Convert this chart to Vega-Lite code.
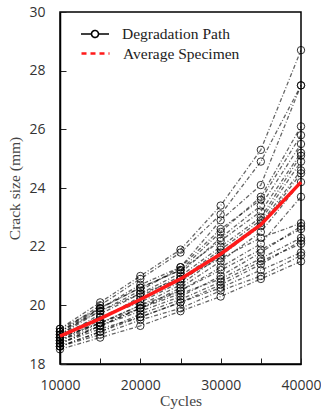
{
  "$schema": "https://vega.github.io/schema/vega-lite/v6.json",
  "width": 241,
  "height": 352,
  "autosize": {"type": "none"},
  "padding": {"left": 60, "top": 12, "right": 20, "bottom": 50},
  "background": "white",
  "config": {
    "view": {"stroke": "black", "strokeWidth": 1.5},
    "axis": {
      "domainColor": "black", "domainWidth": 1.5, "tickColor": "#222", "tickWidth": 1,
      "tickSize": -6, "grid": false, "labelFlush": false,
      "labelFont": "Open Sans", "labelFontSize": 14, "labelColor": "#333",
      "titleFont": "Liberation Serif", "titleFontSize": 15.5, "titleFontWeight": "normal", "titleColor": "#444"
    },
    "legend": {
      "labelFont": "Liberation Serif", "labelFontSize": 15.5, "labelColor": "#222", "labelOffset": 19,
      "symbolSize": 196, "symbolStrokeWidth": 1.8, "title": null, "orient": "none"
    }
  },
  "datasets": {
    "paths": [
      {"p":1,"c":10000,"s":19.2},{"p":1,"c":15000,"s":20.1},{"p":1,"c":20000,"s":21.0},{"p":1,"c":25000,"s":21.9},{"p":1,"c":30000,"s":23.4},{"p":1,"c":35000,"s":25.3},{"p":1,"c":40000,"s":28.7},
      {"p":2,"c":10000,"s":19.1},{"p":2,"c":15000,"s":20.0},{"p":2,"c":20000,"s":20.9},{"p":2,"c":25000,"s":21.8},{"p":2,"c":30000,"s":23.1},{"p":2,"c":35000,"s":24.9},{"p":2,"c":40000,"s":27.5},
      {"p":3,"c":10000,"s":19.0},{"p":3,"c":15000,"s":19.9},{"p":3,"c":20000,"s":20.7},{"p":3,"c":25000,"s":21.3},{"p":3,"c":30000,"s":22.9},{"p":3,"c":35000,"s":24.1},{"p":3,"c":40000,"s":27.5},
      {"p":4,"c":10000,"s":19.1},{"p":4,"c":15000,"s":19.9},{"p":4,"c":20000,"s":20.6},{"p":4,"c":25000,"s":21.2},{"p":4,"c":30000,"s":22.5},{"p":4,"c":35000,"s":23.7},{"p":4,"c":40000,"s":26.1},
      {"p":5,"c":10000,"s":19.0},{"p":5,"c":15000,"s":19.8},{"p":5,"c":20000,"s":20.5},{"p":5,"c":25000,"s":21.3},{"p":5,"c":30000,"s":22.6},{"p":5,"c":35000,"s":23.6},{"p":5,"c":40000,"s":25.8},
      {"p":6,"c":10000,"s":18.9},{"p":6,"c":15000,"s":19.7},{"p":6,"c":20000,"s":20.4},{"p":6,"c":25000,"s":21.1},{"p":6,"c":30000,"s":22.3},{"p":6,"c":35000,"s":23.4},{"p":6,"c":40000,"s":25.5},
      {"p":7,"c":10000,"s":19.2},{"p":7,"c":15000,"s":19.9},{"p":7,"c":20000,"s":20.6},{"p":7,"c":25000,"s":21.2},{"p":7,"c":30000,"s":22.2},{"p":7,"c":35000,"s":23.2},{"p":7,"c":40000,"s":25.2},
      {"p":8,"c":10000,"s":18.8},{"p":8,"c":15000,"s":19.5},{"p":8,"c":20000,"s":20.3},{"p":8,"c":25000,"s":21.0},{"p":8,"c":30000,"s":22.0},{"p":8,"c":35000,"s":23.0},{"p":8,"c":40000,"s":25.1},
      {"p":9,"c":10000,"s":18.9},{"p":9,"c":15000,"s":19.6},{"p":9,"c":20000,"s":20.2},{"p":9,"c":25000,"s":20.9},{"p":9,"c":30000,"s":21.9},{"p":9,"c":35000,"s":22.9},{"p":9,"c":40000,"s":24.9},
      {"p":10,"c":10000,"s":19.0},{"p":10,"c":15000,"s":19.6},{"p":10,"c":20000,"s":20.1},{"p":10,"c":25000,"s":20.8},{"p":10,"c":30000,"s":21.8},{"p":10,"c":35000,"s":22.8},{"p":10,"c":40000,"s":24.6},
      {"p":11,"c":10000,"s":18.8},{"p":11,"c":15000,"s":19.4},{"p":11,"c":20000,"s":20.0},{"p":11,"c":25000,"s":20.7},{"p":11,"c":30000,"s":21.7},{"p":11,"c":35000,"s":22.7},{"p":11,"c":40000,"s":24.5},
      {"p":12,"c":10000,"s":18.7},{"p":12,"c":15000,"s":19.3},{"p":12,"c":20000,"s":19.9},{"p":12,"c":25000,"s":20.6},{"p":12,"c":30000,"s":21.5},{"p":12,"c":35000,"s":22.5},{"p":12,"c":40000,"s":24.2},
      {"p":13,"c":10000,"s":18.9},{"p":13,"c":15000,"s":19.4},{"p":13,"c":20000,"s":20.0},{"p":13,"c":25000,"s":20.5},{"p":13,"c":30000,"s":21.3},{"p":13,"c":35000,"s":22.1},{"p":13,"c":40000,"s":23.7},
      {"p":14,"c":10000,"s":19.1},{"p":14,"c":15000,"s":19.8},{"p":14,"c":20000,"s":20.4},{"p":14,"c":25000,"s":20.9},{"p":14,"c":30000,"s":21.6},{"p":14,"c":35000,"s":22.3},{"p":14,"c":40000,"s":22.8},
      {"p":15,"c":10000,"s":18.8},{"p":15,"c":15000,"s":19.3},{"p":15,"c":20000,"s":19.8},{"p":15,"c":25000,"s":20.3},{"p":15,"c":30000,"s":21.0},{"p":15,"c":35000,"s":21.8},{"p":15,"c":40000,"s":22.7},
      {"p":16,"c":10000,"s":18.7},{"p":16,"c":15000,"s":19.3},{"p":16,"c":20000,"s":19.9},{"p":16,"c":25000,"s":20.5},{"p":16,"c":30000,"s":21.2},{"p":16,"c":35000,"s":21.9},{"p":16,"c":40000,"s":22.6},
      {"p":17,"c":10000,"s":18.9},{"p":17,"c":15000,"s":19.4},{"p":17,"c":20000,"s":19.9},{"p":17,"c":25000,"s":20.4},{"p":17,"c":30000,"s":20.9},{"p":17,"c":35000,"s":21.6},{"p":17,"c":40000,"s":22.3},
      {"p":18,"c":10000,"s":18.6},{"p":18,"c":15000,"s":19.1},{"p":18,"c":20000,"s":19.6},{"p":18,"c":25000,"s":20.1},{"p":18,"c":30000,"s":20.7},{"p":18,"c":35000,"s":21.4},{"p":18,"c":40000,"s":22.2},
      {"p":19,"c":10000,"s":18.7},{"p":19,"c":15000,"s":19.2},{"p":19,"c":20000,"s":19.6},{"p":19,"c":25000,"s":20.1},{"p":19,"c":30000,"s":20.6},{"p":19,"c":35000,"s":21.2},{"p":19,"c":40000,"s":21.8},
      {"p":20,"c":10000,"s":18.6},{"p":20,"c":15000,"s":19.0},{"p":20,"c":20000,"s":19.5},{"p":20,"c":25000,"s":19.9},{"p":20,"c":30000,"s":20.5},{"p":20,"c":35000,"s":21.0},{"p":20,"c":40000,"s":21.7},
      {"p":21,"c":10000,"s":18.5},{"p":21,"c":15000,"s":18.9},{"p":21,"c":20000,"s":19.3},{"p":21,"c":25000,"s":19.8},{"p":21,"c":30000,"s":20.3},{"p":21,"c":35000,"s":20.9},{"p":21,"c":40000,"s":21.5},
      {"p":22,"c":10000,"s":18.6},{"p":22,"c":15000,"s":19.1},{"p":22,"c":20000,"s":19.7},{"p":22,"c":25000,"s":20.2},{"p":22,"c":30000,"s":20.8},{"p":22,"c":35000,"s":21.5},{"p":22,"c":40000,"s":22.1}
    ],
    "avg": [
      {"c":10000,"s":18.95},{"c":15000,"s":19.55},{"c":20000,"s":20.2},{"c":25000,"s":20.9},{"c":30000,"s":21.75},{"c":35000,"s":22.75},{"c":40000,"s":24.2}
    ]
  },
  "layer": [
    {
      "data": {"name": "paths"},
      "mark": {"type": "line", "strokeWidth": 1.3, "strokeDash": [4, 2, 1, 2], "opacity": 0.6},
      "encoding": {
        "x": {"field": "c", "type": "quantitative", "scale": {"domain": [10000, 40000], "nice": false, "zero": false},
          "axis": {"title": "Cycles", "values": [10000, 15000, 20000, 25000, 30000, 35000, 40000], "format": "d",
            "labelExpr": "datum.value % 10000 === 0 ? datum.label : ''", "labelPadding": 20, "titlePadding": 1}},
        "y": {"field": "s", "type": "quantitative", "scale": {"domain": [18, 30], "nice": false, "zero": false},
          "axis": {"title": "Crack size (mm)", "values": [18, 20, 22, 24, 26, 28, 30], "labelPadding": 21, "titlePadding": 6}},
        "detail": {"field": "p"},
        "stroke": {"datum": "Degradation Path", "type": "nominal",
          "scale": {"domain": ["Degradation Path"], "range": ["black"]},
          "legend": {
            "legendX": 27, "legendY": 14,
            "symbolType": "M-2,0H-0.5M0.5,0H2M-0.5,0A0.5,0.5 0 1,1 0.5,0A0.5,0.5 0 1,1 -0.5,0",
            "symbolDash": [1, 0], "symbolStrokeWidth": 1.6, "symbolFillColor": "transparent", "symbolOpacity": 1
          }}
      }
    },
    {
      "data": {"name": "paths"},
      "mark": {"type": "point", "filled": false, "size": 55, "strokeWidth": 1, "color": "black", "opacity": 0.8},
      "encoding": {
        "x": {"field": "c", "type": "quantitative"},
        "y": {"field": "s", "type": "quantitative"}
      }
    },
    {
      "data": {"name": "avg"},
      "mark": {"type": "line", "strokeWidth": 3.5},
      "encoding": {
        "x": {"field": "c", "type": "quantitative"},
        "y": {"field": "s", "type": "quantitative"},
        "color": {"datum": "Average Specimen", "type": "nominal",
          "scale": {"domain": ["Average Specimen"], "range": ["#ff1a1a"]},
          "legend": {
            "legendX": 27, "legendY": 33,
            "symbolType": "M-2,0H2", "symbolDash": [5, 4], "symbolStrokeWidth": 2.5
          }}
      }
    }
  ]
}
